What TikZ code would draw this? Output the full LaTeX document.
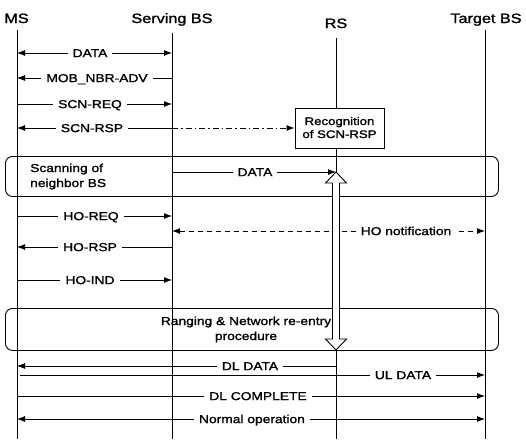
\documentclass[tikz,border=0pt]{standalone}
\usepackage{fontspec}
\setmainfont[FakeStretch=1.2,FakeBold=1.5]{Liberation Sans}
\usetikzlibrary{arrows.meta}
\begin{document}
\begin{tikzpicture}[x=1pt,y=-1pt,
  life/.style={line width=0.9pt},
  msg/.style={line width=0.9pt},
  tip/.style={-{Latex[length=8pt,width=6pt]}},
  tips/.style={{Latex[length=8pt,width=6pt]}-{Latex[length=8pt,width=6pt]}},
  lbl/.style={fill=white,inner xsep=5pt,inner ysep=1pt,text height=8.2pt,text depth=0pt,font=\fontsize{11.5}{13}\selectfont},
  hdr/.style={anchor=base,inner sep=0pt,font=\fontsize{13.5}{16}\selectfont},
  txt/.style={anchor=base,inner sep=0pt,font=\fontsize{11.5}{13}\selectfont},
  rbox/.style={draw,line width=0.9pt,rounded corners=7pt,inner sep=0pt,anchor=north west},
]
\useasboundingbox (0,0) rectangle (526,439);
\def\xa{17}\def\xb{172}\def\xc{336}\def\xd{485}
% headers
\node[hdr] (hms) at (16.5,23) {MS};
\node[hdr] (hsbs) at (172,23) {Serving BS};
\node[hdr] (hrs) at (336,28) {RS};
\node[hdr] (htbs) at (486,23) {Target BS};
% lifelines
\coordinate (ms0) at (\xa,30);  \coordinate (ms1) at (\xa,439);
\coordinate (sb0) at (\xb,33);  \coordinate (sb1) at (\xb,439);
\coordinate (rs0) at (\xc,38);  \coordinate (rs1) at (\xc,439);
\coordinate (tb0) at (\xd,30);  \coordinate (tb1) at (\xd,439);
\draw[life] (ms0) -- (ms1);
\draw[life] (sb0) -- (sb1);
\draw[life] (rs0) -- (rs1);
\draw[life] (tb0) -- (tb1);
% boxes
\node[rbox,minimum width=493pt,minimum height=40pt] (scan) at (5,156) {};
\node[txt,anchor=base west] (scan1) at (30,172) {Scanning of};
\node[txt,anchor=base west] (scan2) at (30,187) {neighbor BS};
\node[rbox,minimum width=493pt,minimum height=42pt] (rng) at (5,308) {};
\node[txt] (rng1) at (246,325) {Ranging \& Network re-entry};
\node[txt] (rng2) at (246,340) {procedure};
\node[draw,fill=white,line width=0.9pt,inner sep=0pt,minimum width=89pt,minimum height=40pt] (rec) at (339.5,128) {};
\node[txt,font=\fontsize{11}{12}\selectfont] (rec1) at (339.5,125) {Recognition};
\node[txt,font=\fontsize{11}{12}\selectfont] (rec2) at (339.5,138) {of SCN-RSP};
% messages
\coordinate (m1a) at (\xa,53); \coordinate (m1b) at (\xb,53);
\draw[msg,tips] (m1a) -- (m1b);
\node[lbl] (l1) at (90,53) {DATA};
\coordinate (m2a) at (\xb,78); \coordinate (m2b) at (\xa,78);
\draw[msg,tip] (m2a) -- (m2b);
\node[lbl] (l2) at (97,78) {MOB\_NBR-ADV};
\coordinate (m3a) at (\xa,104); \coordinate (m3b) at (\xb,104);
\draw[msg,tip] (m3a) -- (m3b);
\node[lbl] (l3) at (90,104) {SCN-REQ};
\coordinate (m4a) at (\xb,128); \coordinate (m4b) at (\xa,128);
\draw[msg,tip] (m4a) -- (m4b);
\draw[msg,tip,dash pattern=on 6pt off 3pt on 1.5pt off 3pt] (m4a) -- (rec.west);
\node[lbl] (l4) at (92,128) {SCN-RSP};
\coordinate (m5a) at (\xb,172); \coordinate (m5b) at (\xc,172);
\draw[msg,tip] (m5a) -- (m5b);
\node[lbl] (l5) at (255,172) {DATA};
\coordinate (m6a) at (\xa,216); \coordinate (m6b) at (\xb,216);
\draw[msg,tip] (m6a) -- (m6b);
\node[lbl] (l6) at (91,216) {HO-REQ};
\coordinate (m7a) at (\xb,231); \coordinate (m7b) at (\xd,231);
\draw[msg,tips,dash pattern=on 5pt off 4pt] (m7a) -- (m7b);
\node[lbl] (l7) at (406,231) {HO notification};
\coordinate (m8a) at (\xb,247); \coordinate (m8b) at (\xa,247);
\draw[msg,tip] (m8a) -- (m8b);
\node[lbl] (l8) at (90,247) {HO-RSP};
\coordinate (m9a) at (\xa,280); \coordinate (m9b) at (\xb,280);
\draw[msg,tip] (m9a) -- (m9b);
\node[lbl] (l9) at (90,280) {HO-IND};
\coordinate (m10a) at (\xc,366); \coordinate (m10b) at (\xa,366);
\draw[msg,tip] (m10a) -- (m10b);
\coordinate (m11a) at (20,375); \coordinate (m11b) at (\xd,375);
\draw[msg,tip] (m11a) -- (m11b);
\node[lbl] (l10) at (250,366) {DL DATA};
\node[lbl] (l11) at (403,375) {UL DATA};
\coordinate (m12a) at (\xa,396); \coordinate (m12b) at (\xd,396);
\draw[msg,tip] (m12a) -- (m12b);
\node[lbl] (l12) at (258,396) {DL COMPLETE};
\coordinate (m13a) at (\xa,419); \coordinate (m13b) at (\xd,419);
\draw[msg,tips] (m13a) -- (m13b);
\node[lbl] (l13) at (252,419) {Normal operation};
% big hollow double arrow
\draw[line width=0.9pt,fill=white,line join=miter]
  (336,172) -- (346.5,183) -- (339.5,183) -- (339.5,339) -- (346.5,339) -- (336,350)
  -- (325.5,339) -- (332.5,339) -- (332.5,183) -- (325.5,183) -- cycle;
\end{tikzpicture}
\end{document}
